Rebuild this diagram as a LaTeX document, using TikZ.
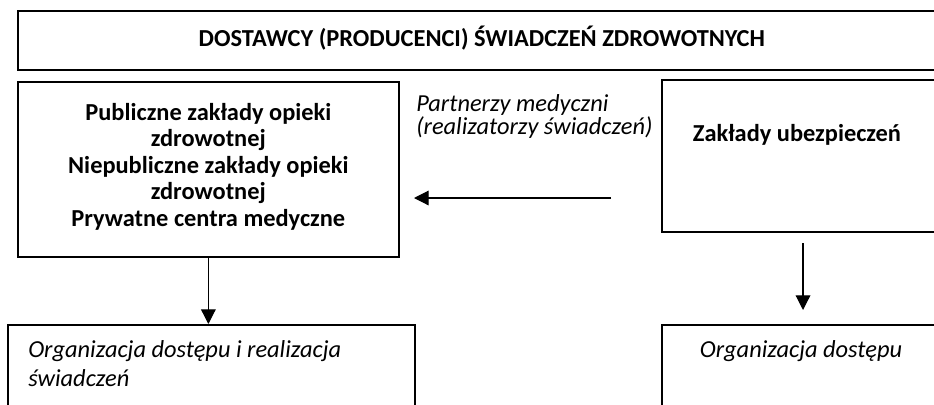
\documentclass[tikz,border=0pt]{standalone}
\usepackage{fontspec}
\setmainfont{Carlito}
\usetikzlibrary{arrows.meta,positioning}

\tikzset{
  ramka/.style={draw, line width=1.3pt, inner sep=0pt, anchor=north west},
  pogrubiony/.style={font=\fontsize{18.3}{19.9}\selectfont\bfseries, align=center},
  kursywa/.style={font=\fontsize{18.3}{17.3}\selectfont\itshape, align=left, inner sep=0pt, anchor=north west},
  strzalka/.style={line width=0.9pt, -{Triangle[length=11pt,width=11pt]}},
}

\begin{document}
\begin{tikzpicture}[x=0.75pt,y=-0.75pt]

\useasboundingbox (0,0) rectangle (934,404) ;
\clip (0,0) rectangle (934,404) ;

% naglowek
\node[ramka, minimum width=696pt, minimum height=44.25pt] (dostawcy) at (17,10) {} ;
\node[pogrubiony] (dostawcytekst) at ([yshift=2pt]dostawcy.center) {DOSTAWCY (PRODUCENCI) ŚWIADCZEŃ ZDROWOTNYCH} ;

% lewa strona
\node[ramka, minimum width=285.75pt, minimum height=131.25pt] (zoz) at (17,81) {} ;
\node[pogrubiony] (zoztekst) at ([yshift=2pt]zoz.center) {Publiczne zakłady opieki\\ zdrowotnej\\ Niepubliczne zakłady opieki\\ zdrowotnej\\ Prywatne centra medyczne} ;

\node[ramka, minimum width=305.25pt, minimum height=75pt] (realizacja) at (7,324) {} ;
\node[kursywa, font=\fontsize{18.3}{21.75}\selectfont\itshape] (realizacjatekst) at (28,340) {Organizacja dostępu i realizacja\\ świadczeń} ;

% prawa strona
\node[ramka, minimum width=210pt, minimum height=114pt] (ubezp) at (661,79) {} ;
\node[pogrubiony] (ubezptekst) at (797,135) {Zakłady ubezpieczeń} ;

\node[ramka, minimum width=210pt, minimum height=75pt] (dostep) at (661,324) {} ;
\node[kursywa, anchor=center] (dosteptekst) at (801,351) {Organizacja dostępu} ;

% srodek
\node[kursywa] (partnerzy) at (416,94) {Partnerzy medyczni\\ (realizatorzy świadczeń)} ;

\coordinate (pstart) at (611,198) ;
\coordinate (pkoniec) at (414,198) ;
\coordinate (ustart) at (803,243) ;
\coordinate (ukoniec) at (803,310) ;

\draw[strzalka] (pstart) -- (pkoniec) ;
\draw[strzalka] (zoz.south) -- (zoz.south |- realizacja.north) ;
\draw[strzalka] (ustart) -- (ukoniec) ;

\end{tikzpicture}
\end{document}
